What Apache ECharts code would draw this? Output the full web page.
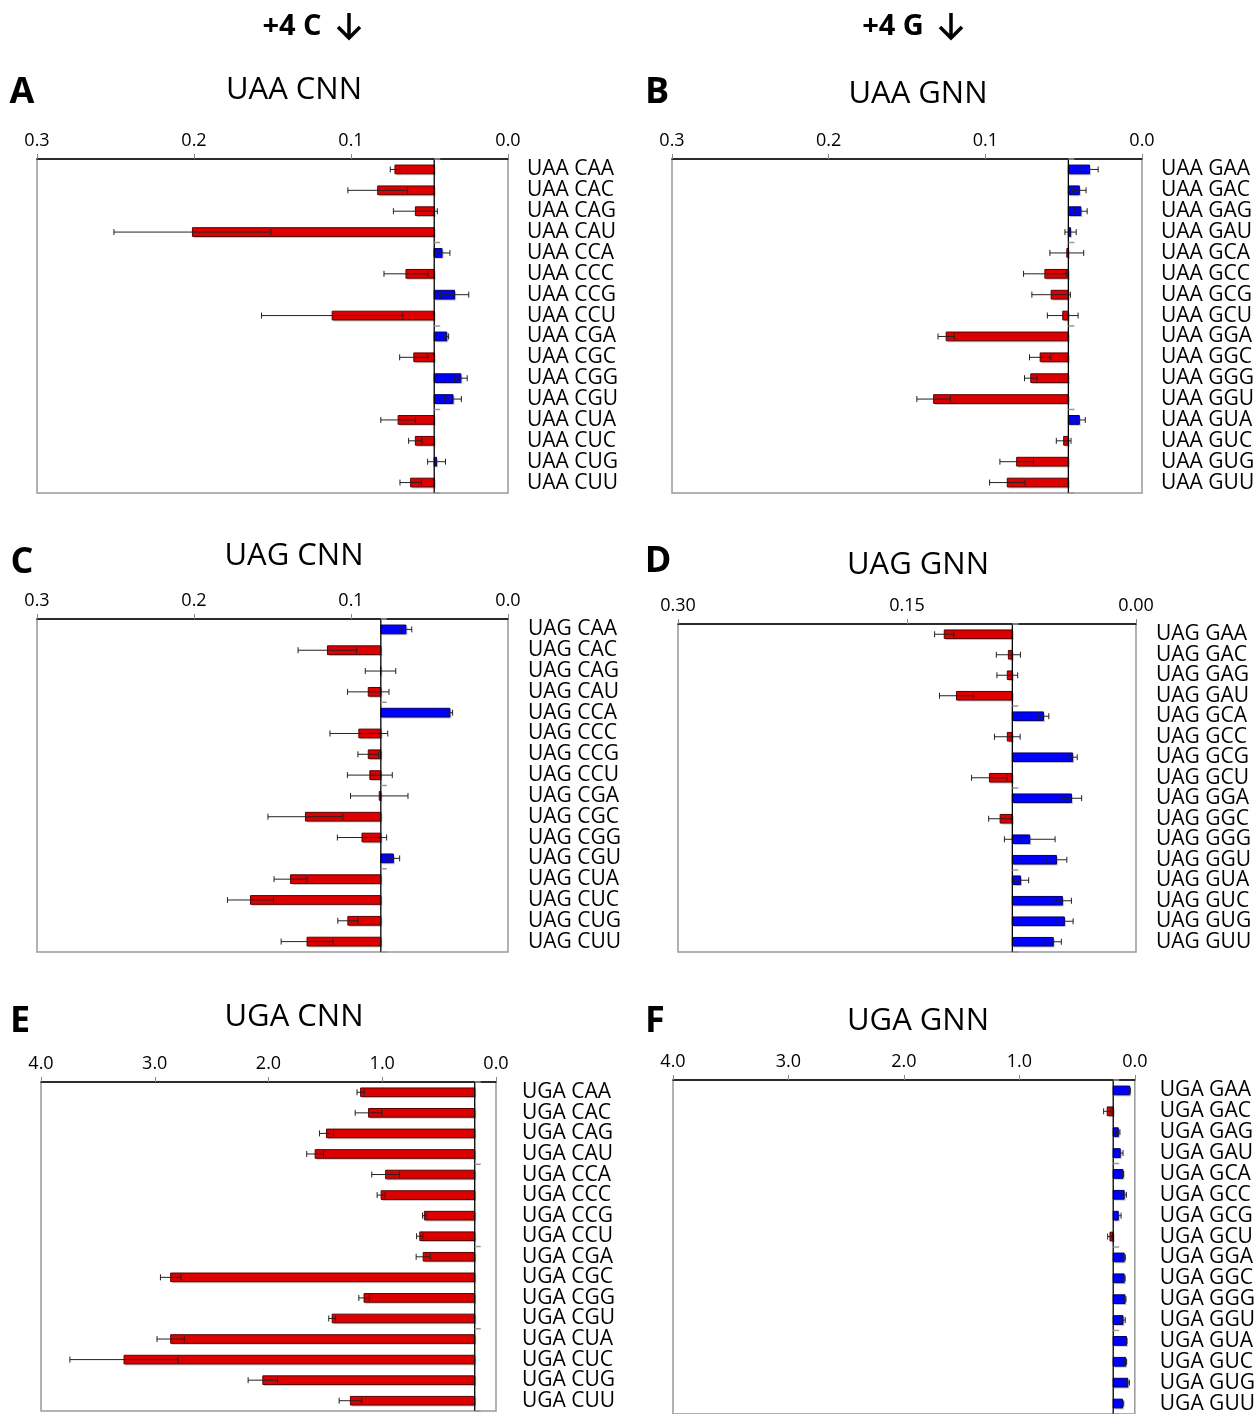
<!DOCTYPE html>
<html>
<head>
<meta charset="utf-8">
<script src="https://cdn.jsdelivr.net/npm/echarts@6/dist/echarts.min.js"></script>
<style>
html, body { margin: 0; padding: 0; background: #fff; }
#main { width: 1258px; height: 1414px; }
</style>
</head>
<body>
<div id="main"></div>
<script>
// 各面板的类别、数值、误差
var labelsA = ['UAA CAA','UAA CAC','UAA CAG','UAA CAU','UAA CCA','UAA CCC','UAA CCG','UAA CCU','UAA CGA','UAA CGC','UAA CGG','UAA CGU','UAA CUA','UAA CUC','UAA CUG','UAA CUU'];
var valsA = [0.072, 0.083, 0.059, 0.201, 0.042, 0.065, 0.034, 0.112, 0.039, 0.060, 0.030, 0.035, 0.070, 0.059, 0.0455, 0.062];
var errsA = [0.003, 0.019, 0.014, 0.050, 0.005, 0.014, 0.009, 0.045, 0.0012, 0.009, 0.004, 0.0053, 0.011, 0.0043, 0.0057, 0.0068];

var labelsB = ['UAA GAA','UAA GAC','UAA GAG','UAA GAU','UAA GCA','UAA GCC','UAA GCG','UAA GCU','UAA GGA','UAA GGC','UAA GGG','UAA GGU','UAA GUA','UAA GUC','UAA GUG','UAA GUU'];
var valsB = [0.0335, 0.040, 0.039, 0.0456, 0.048, 0.062, 0.058, 0.0506, 0.125, 0.065, 0.071, 0.133, 0.040, 0.050, 0.080, 0.086];
var errsB = [0.0055, 0.0043, 0.004, 0.0036, 0.0108, 0.0136, 0.0123, 0.0098, 0.0052, 0.0068, 0.004, 0.0107, 0.0038, 0.0047, 0.0107, 0.0113];

var labelsC = ['UAG CAA','UAG CAC','UAG CAG','UAG CAU','UAG CCA','UAG CCC','UAG CCG','UAG CCU','UAG CGA','UAG CGC','UAG CGG','UAG CGU','UAG CUA','UAG CUC','UAG CUG','UAG CUU'];
var valsC = [0.065, 0.115, 0.0812, 0.089, 0.037, 0.095, 0.089, 0.088, 0.082, 0.129, 0.093, 0.073, 0.1385, 0.164, 0.102, 0.128];
var errsC = [0.0037, 0.0187, 0.0097, 0.0132, 0.0017, 0.0184, 0.0066, 0.0143, 0.0183, 0.0239, 0.0157, 0.004, 0.0105, 0.0147, 0.0064, 0.0165];

var labelsD = ['UAG GAA','UAG GAC','UAG GAG','UAG GAU','UAG GCA','UAG GCC','UAG GCG','UAG GCU','UAG GGA','UAG GGC','UAG GGG','UAG GGU','UAG GUA','UAG GUC','UAG GUG','UAG GUU'];
var valsD = [0.1256, 0.0836, 0.0843, 0.1176, 0.0606, 0.0843, 0.0415, 0.096, 0.0423, 0.089, 0.0696, 0.0521, 0.0756, 0.0482, 0.0469, 0.0542];
var errsD = [0.0063, 0.0079, 0.0068, 0.0111, 0.0035, 0.0084, 0.003, 0.0117, 0.0067, 0.0075, 0.0166, 0.0068, 0.0053, 0.0059, 0.0057, 0.0053];

var labelsE = ['UGA CAA','UGA CAC','UGA CAG','UGA CAU','UGA CCA','UGA CCC','UGA CCG','UGA CCU','UGA CGA','UGA CGC','UGA CGG','UGA CGU','UGA CUA','UGA CUC','UGA CUG','UGA CUU'];
var valsE = [1.19, 1.12, 1.49, 1.59, 0.97, 1.01, 0.63, 0.67, 0.64, 2.86, 1.16, 1.44, 2.86, 3.27, 2.05, 1.28];
var errsE = [0.032, 0.118, 0.062, 0.074, 0.122, 0.035, 0.016, 0.028, 0.062, 0.09, 0.046, 0.03, 0.12, 0.476, 0.129, 0.099];

var labelsF = ['UGA GAA','UGA GAC','UGA GAG','UGA GAU','UGA GCA','UGA GCC','UGA GCG','UGA GCU','UGA GGA','UGA GGC','UGA GGG','UGA GGU','UGA GUA','UGA GUC','UGA GUG','UGA GUU'];
var valsF = [0.044, 0.239, 0.143, 0.126, 0.102, 0.092, 0.143, 0.215, 0.092, 0.092, 0.085, 0.102, 0.072, 0.079, 0.061, 0.106];
var errsF = [0.005, 0.031, 0.014, 0.024, 0.005, 0.019, 0.024, 0.02, 0.01, 0.008, 0.008, 0.019, 0.004, 0.008, 0.014, 0.01];

// 基线（竖线）位置
var baseUAA = 0.047;
var baseUAG = 0.081;
var baseUGA = 0.187;

var FONT = '"Open Sans", "Noto Sans", sans-serif';

var panels = [
    { letter: 'A', title: 'UAA CNN', labels: labelsA, vals: valsA, errs: errsA, base: baseUAA, max: 0.3, step: 0.1, dec: 1, lm: 19,
      grid: { left: 37, top: 159, width: 471, height: 334 }, lx: 22, ly: 93, tx: 294, ty: 90 },
    { letter: 'B', title: 'UAA GNN', labels: labelsB, vals: valsB, errs: errsB, base: baseUAA, max: 0.3, step: 0.1, dec: 1, lm: 19,
      grid: { left: 672, top: 159, width: 470, height: 334 }, lx: 657, ly: 93, tx: 918, ty: 94 },
    { letter: 'C', title: 'UAG CNN', labels: labelsC, vals: valsC, errs: errsC, base: baseUAG, max: 0.3, step: 0.1, dec: 1, lm: 20,
      grid: { left: 37, top: 619, width: 471, height: 333 }, lx: 22, ly: 563, tx: 294, ty: 556 },
    { letter: 'D', title: 'UAG GNN', labels: labelsD, vals: valsD, errs: errsD, base: baseUAG, max: 0.3, step: 0.15, dec: 2, lm: 20,
      grid: { left: 678, top: 624, width: 458, height: 328 }, lx: 658, ly: 562, tx: 918, ty: 565 },
    { letter: 'E', title: 'UGA CNN', labels: labelsE, vals: valsE, errs: errsE, base: baseUGA, max: 4, step: 1, dec: 1, lm: 26,
      grid: { left: 41, top: 1082, width: 455, height: 329 }, lx: 20, ly: 1022, tx: 294, ty: 1017 },
    { letter: 'F', title: 'UGA GNN', labels: labelsF, vals: valsF, errs: errsF, base: baseUGA, max: 4, step: 1, dec: 1, lm: 25,
      grid: { left: 673, top: 1080, width: 462, height: 335 }, lx: 655, ly: 1022, tx: 918, ty: 1021 }
];

// 柱子 + 误差线
function barRender(base) {
    return function (params, api) {
        var idx = api.value(0), v = api.value(1), e = api.value(2);
        var p0 = api.coord([base, idx]);
        var p1 = api.coord([v, idx]);
        var band = api.size([0, 1])[1];
        var h = band * 0.42;
        var x0 = Math.min(p0[0], p1[0]);
        var w = Math.abs(p1[0] - p0[0]);
        var y = p1[1];
        var red = v > base;
        var lo = api.coord([v - e, idx])[0];
        var hi = api.coord([v + e, idx])[0];
        var cap = 3;
        return {
            type: 'group',
            children: [
                { type: 'rect', shape: { x: x0 + 1.5, y: y - h / 2 + 1.5, width: w, height: h },
                  style: { fill: 'rgba(0,0,0,0.22)' } },
                { type: 'rect', shape: { x: x0, y: y - h / 2, width: w, height: h },
                  style: { fill: red ? '#dd0000' : '#0000ff', stroke: red ? '#5a0000' : '#00006a', lineWidth: 1 } },
                { type: 'line', shape: { x1: lo, y1: y, x2: hi, y2: y }, style: { stroke: '#222', lineWidth: 1 } },
                { type: 'line', shape: { x1: lo, y1: y - cap, x2: lo, y2: y + cap }, style: { stroke: '#222', lineWidth: 1 } },
                { type: 'line', shape: { x1: hi, y1: y - cap, x2: hi, y2: y + cap }, style: { stroke: '#222', lineWidth: 1 } }
            ]
        };
    };
}

// 基线竖线和分组小刻度
function baseRender(base) {
    return function (params, api) {
        var cs = params.coordSys;
        var bx = api.coord([base, 0])[0];
        var kids = [
            { type: 'line', shape: { x1: bx, y1: cs.y, x2: bx, y2: cs.y + cs.height }, style: { stroke: '#000', lineWidth: 1.3 } }
        ];
        for (var k = 0; k <= 4; k++) {
            var yy = cs.y + cs.height * k / 4;
            kids.push({ type: 'line', shape: { x1: bx, y1: yy, x2: bx + 6, y2: yy }, style: { stroke: '#999', lineWidth: 1.5 } });
        }
        return { type: 'group', children: kids };
    };
}

var grids = [], xAxes = [], yAxes = [], series = [], graphics = [];

// 顶部标题 “+4 C ↓” “+4 G ↓”
function header(txt, tx, ax) {
    graphics.push({ type: 'text', x: tx, y: 27, style: { text: txt, font: 'bold 29px ' + FONT, fill: '#000', align: 'center', verticalAlign: 'middle' } });
    graphics.push({ type: 'polyline', shape: { points: [[ax, 13], [ax, 38]] }, style: { stroke: '#000', lineWidth: 3.5, fill: null } });
    graphics.push({ type: 'polyline', shape: { points: [[ax - 11, 27], [ax, 38], [ax + 11, 27]] }, style: { stroke: '#000', lineWidth: 3.5, fill: null, lineJoin: 'miter' } });
}
header('+4 C', 292, 349);
header('+4 G', 893, 951);

panels.forEach(function (p, i) {
    grids.push({ left: p.grid.left, top: p.grid.top, width: p.grid.width, height: p.grid.height,
        show: true, borderColor: '#999', borderWidth: 1.5, backgroundColor: 'transparent', containLabel: false });
    xAxes.push({
        type: 'value', gridIndex: i, position: 'top', inverse: true,
        min: 0, max: p.max, interval: p.step,
        axisLine: { show: true, lineStyle: { color: '#000', width: 1.5 } },
        axisTick: { show: true, inside: false, length: 5, lineStyle: { color: '#888' } },
        splitLine: { show: false },
        axisLabel: { show: true, margin: 9, fontSize: 18, fontFamily: FONT, color: '#000',
            showMinLabel: true, showMaxLabel: true,
            formatter: (function (d) { return function (v) { return v.toFixed(d); }; })(p.dec) }
    });
    yAxes.push({
        type: 'category', gridIndex: i, position: 'right', inverse: true,
        data: p.labels,
        axisLine: { show: false }, axisTick: { show: false }, splitLine: { show: false },
        axisLabel: { margin: p.lm, fontSize: 21, fontFamily: FONT, color: '#000', interval: 0, padding: [5, 0, 0, 0] }
    });
    var rows = p.vals.map(function (v, k) { return [k, v, p.errs[k]]; });
    series.push({
        type: 'custom', xAxisIndex: i, yAxisIndex: i,
        encode: { x: 1, y: 0 },
        data: rows,
        renderItem: barRender(p.base),
        clip: false
    });
    series.push({
        type: 'custom', xAxisIndex: i, yAxisIndex: i,
        encode: { x: 0, y: 1 },
        data: [[p.base, 0]],
        renderItem: baseRender(p.base),
        z: 3
    });
    graphics.push({ type: 'text', x: p.lx, y: p.ly, style: { text: p.letter, font: 'bold 36px ' + FONT, fill: '#000', align: 'center', verticalAlign: 'middle' } });
    graphics.push({ type: 'text', x: p.tx, y: p.ty, style: { text: p.title, font: '31px ' + FONT, fill: '#000', align: 'center', verticalAlign: 'middle' } });
});

var myChart = echarts.init(document.getElementById('main'), null, { renderer: 'canvas' });
myChart.setOption({
    animation: false,
    backgroundColor: '#fff',
    grid: grids,
    xAxis: xAxes,
    yAxis: yAxes,
    series: series,
    graphic: graphics
});
</script>
</body>
</html>
